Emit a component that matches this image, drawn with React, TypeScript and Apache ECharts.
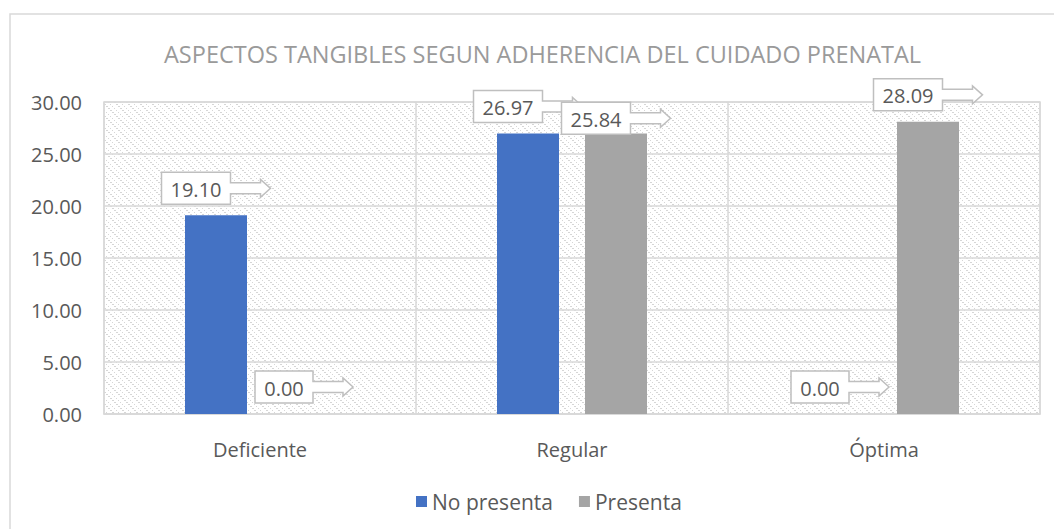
import React, { useEffect, useRef } from "react";
import * as echarts from "echarts";

const titleText = "ASPECTOS TANGIBLES SEGUN ADHERENCIA DEL CUIDADO PRENATAL";
const categories = ["Deficiente", "Regular", "Óptima"];
const seriesNames = ["No presenta", "Presenta"];
// heights of the bars as drawn
const noPresentaBars = [19.1, 26.97, 0];
const presentaBars = [0, 26.97, 28.09];
// data label values
const noPresentaLabels = [19.1, 26.97, 0];
const presentaLabels = [0, 25.84, 28.09];
const yTicks = { min: 0, max: 30, interval: 5 };

const FONT = "'Open Sans', 'Noto Sans', sans-serif";
const BAR_W = 62;
const BAR_GAP = 26;

function makePattern() {
  const c = document.createElement("canvas");
  c.width = 12;
  c.height = 12;
  const ctx = c.getContext("2d")!;
  ctx.fillStyle = "#ffffff";
  ctx.fillRect(0, 0, 12, 12);
  ctx.fillStyle = "#d6d6d6";
  const pts = [
    [0, 0], [2, 2], [4, 4], [6, 6], [8, 8], [10, 10],
    [1, 0], [3, 2], [5, 4], [7, 6], [9, 8], [11, 10],
    [6, 0], [8, 2], [10, 4], [0, 6], [2, 8], [4, 10],
  ];
  pts.forEach(([x, y]) => ctx.fillRect(x, y, 1, 1));
  return c;
}

let measureCtx: CanvasRenderingContext2D | null = null;
function textWidth(t: string) {
  if (!measureCtx) {
    measureCtx = document.createElement("canvas").getContext("2d");
  }
  measureCtx!.font = `20px ${FONT}`;
  return measureCtx!.measureText(t).width;
}

function calloutSeries(labels: number[], offset: number, z: number) {
  return {
    type: "custom",
    coordinateSystem: "cartesian2d",
    z,
    silent: true,
    data: labels.map((v, i) => [i, v]),
    renderItem: (params: any, api: any) => {
      const idx = api.value(0);
      const v = api.value(1);
      const p = api.coord([idx, v]);
      const cx = p[0] + offset;
      const txt = Number(v).toFixed(2);
      const w = Math.round(textWidth(txt) + 18);
      const h = 32;
      const total = w + 40;
      const L = cx - total / 2;
      const R = L + w;
      const B = p[1] - 11;
      const T = B - h;
      const mid = (T + B) / 2;
      const points = [
        [L, T], [R, T], [R, mid - 5.5], [R + 30, mid - 5.5], [R + 30, mid - 9],
        [R + 40, mid], [R + 30, mid + 9], [R + 30, mid + 5.5], [R, mid + 5.5],
        [R, B], [L, B],
      ];
      return {
        type: "group",
        children: [
          {
            type: "polygon",
            shape: { points },
            style: { fill: "#ffffff", stroke: "#bfbfbf", lineWidth: 1.5 },
          },
          {
            type: "text",
            x: L + w / 2,
            y: mid + 1,
            style: {
              text: txt,
              fill: "#595959",
              font: `20px ${FONT}`,
              align: "center",
              verticalAlign: "middle",
            },
          },
        ],
      };
    },
  };
}

export default function App() {
  const ref = useRef<HTMLDivElement>(null);
  useEffect(() => {
    if (!ref.current) return;
    const chart = echarts.init(ref.current, null, { renderer: "svg" });
    const pattern = makePattern();
    const off = (BAR_W + BAR_GAP) / 2;
    chart.setOption({
      animation: false,
      backgroundColor: "#ffffff",
      title: {
        text: titleText,
        left: 159,
        top: 37,
        textStyle: { fontFamily: FONT, fontSize: 23.5, fontWeight: "normal", color: "#9a9a9a" },
      },
      graphic: [
        {
          type: "rect",
          shape: { x: 10, y: 14, width: 1100, height: 600 },
          style: { fill: "none", stroke: "#d9d9d9", lineWidth: 1.5 },
          silent: true,
          z: -10,
        },
      ],
      legend: {
        data: seriesNames,
        top: 486,
        left: 411,
        icon: "rect",
        itemWidth: 11,
        itemHeight: 11,
        itemGap: 26,
        textStyle: { fontFamily: FONT, fontSize: 21, color: "#595959" },
      },
      grid: {
        left: 104,
        right: 14,
        top: 102,
        bottom: 115,
        show: true,
        backgroundColor: { image: pattern, repeat: "repeat", imageWidth: 12, imageHeight: 12 },
        borderColor: "#d9d9d9",
        borderWidth: 1.5,
      },
      xAxis: {
        type: "category",
        data: categories,
        axisTick: { show: false },
        axisLine: { lineStyle: { color: "#d9d9d9", width: 1.5 } },
        splitLine: { show: true, lineStyle: { color: "#d9d9d9", width: 1.5 } },
        axisLabel: { fontFamily: FONT, fontSize: 20, color: "#595959", margin: 25 },
      },
      yAxis: {
        type: "value",
        min: yTicks.min,
        max: yTicks.max,
        interval: yTicks.interval,
        axisLine: { show: false },
        axisTick: { show: false },
        splitLine: { lineStyle: { color: "#d9d9d9", width: 1.5 } },
        axisLabel: {
          fontFamily: FONT,
          fontSize: 20,
          color: "#595959",
          margin: 22,
          formatter: (v: number) => v.toFixed(2),
        },
      },
      series: [
        {
          name: seriesNames[0],
          type: "bar",
          data: noPresentaBars,
          barWidth: BAR_W,
          barGap: `${(BAR_GAP / BAR_W) * 100}%`,
          itemStyle: { color: "#4472C4" },
        },
        {
          name: seriesNames[1],
          type: "bar",
          data: presentaBars,
          barWidth: BAR_W,
          barGap: `${(BAR_GAP / BAR_W) * 100}%`,
          itemStyle: { color: "#A5A5A5" },
        },
        calloutSeries(noPresentaLabels, -off, 5),
        calloutSeries(presentaLabels, off, 6),
      ],
    });
    return () => chart.dispose();
  }, []);
  return (
    <div
      ref={ref}
      style={{ position: "fixed", left: 0, top: 0, width: 1054, height: 529 }}
    />
  );
}
